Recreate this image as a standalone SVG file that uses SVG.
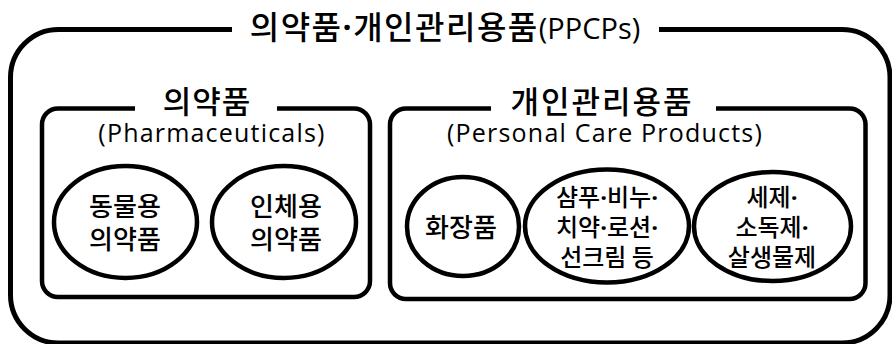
<svg xmlns="http://www.w3.org/2000/svg" width="892" height="344" viewBox="0 0 892 344">
<style>
.frame{fill:none;stroke:#000;stroke-width:5;stroke-linejoin:round}
.box{fill:none;stroke:#000;stroke-width:4.5}
.node{fill:#fff;stroke:#000;stroke-width:4.5}
.ko{font-family:"Noto Sans CJK KR","Noto Sans",sans-serif;font-weight:500;fill:#000}
.en{font-family:"Open Sans","Noto Sans",sans-serif;font-weight:400;fill:#000}
.dot{font-family:"Open Sans","Noto Sans",sans-serif;font-weight:700}
.t1{font-size:32px;letter-spacing:1.5px}
.t2{font-size:31px;letter-spacing:1px}
.t3{font-size:31px;letter-spacing:2px}
.sub{font-size:25px;letter-spacing:1.2px}
.n1{font-size:26px}
.n2{font-size:24px}
</style>
<rect width="892" height="344" fill="#fff"/>
<g id="outer">
<path class="frame" d="M232,29.5 H58.5 A48,48 0 0 0 10.5,77.5 V295 A48,48 0 0 0 58.5,343 H842 A48,48 0 0 0 890,295 V77.5 A48,48 0 0 0 842,29.5 H659"/>
<text class="ko t1" x="445" y="39" text-anchor="middle">의약품<tspan class="dot">·</tspan>개인관리용품<tspan class="en" font-size="29px" letter-spacing="0">(PPCPs)</tspan></text>
</g>
<g id="pharma">
<path class="box" d="M135,108.5 H58 A16,16 0 0 0 42,124.5 V281 A16,16 0 0 0 58,297 H354 A16,16 0 0 0 370,281 V124.5 A16,16 0 0 0 354,108.5 H277"/>
<text class="ko t2" x="207" y="113" text-anchor="middle">의약품</text>
<text class="en sub" x="212" y="142" text-anchor="middle">(Pharmaceuticals)</text>
</g>
<g id="personal">
<path class="box" d="M491,108.5 H406 A16,16 0 0 0 390,124.5 V283 A16,16 0 0 0 406,299 H849.5 A16,16 0 0 0 865.5,283 V124.5 A16,16 0 0 0 849.5,108.5 H716"/>
<text class="ko t3" x="602" y="113" text-anchor="middle">개인관리용품</text>
<text class="en sub" x="605" y="142" text-anchor="middle">(Personal Care Products)</text>
</g>
<g id="animal">
<ellipse class="node" cx="125.5" cy="222" rx="71.5" ry="56"/>
<text class="ko n1" text-anchor="middle"><tspan x="125" y="216">동물용</tspan><tspan x="125" y="249">의약품</tspan></text>
</g>
<g id="human">
<ellipse class="node" cx="284" cy="222" rx="72" ry="56"/>
<text class="ko n1" text-anchor="middle"><tspan x="286" y="216">인체용</tspan><tspan x="286" y="249">의약품</tspan></text>
</g>
<g id="cosmetics">
<ellipse class="node" cx="463" cy="226.5" rx="56" ry="49.5"/>
<text class="ko n1" x="461" y="237" text-anchor="middle">화장품</text>
</g>
<g id="toiletries">
<ellipse class="node" cx="607" cy="226" rx="82" ry="56.5"/>
<text class="ko n2" text-anchor="middle"><tspan x="607" y="206">샴푸<tspan class="dot">·</tspan>비누<tspan class="dot">·</tspan></tspan><tspan x="607" y="236">치약<tspan class="dot">·</tspan>로션<tspan class="dot">·</tspan></tspan><tspan x="607" y="266">선크림 등</tspan></text>
</g>
<g id="detergents">
<ellipse class="node" cx="772.5" cy="226.5" rx="78.5" ry="54.5"/>
<text class="ko n2" text-anchor="middle"><tspan x="772" y="206">세제<tspan class="dot">·</tspan></tspan><tspan x="772" y="236">소독제<tspan class="dot">·</tspan></tspan><tspan x="772" y="266">살생물제</tspan></text>
</g>
<g id="connectors"></g>
</svg>
